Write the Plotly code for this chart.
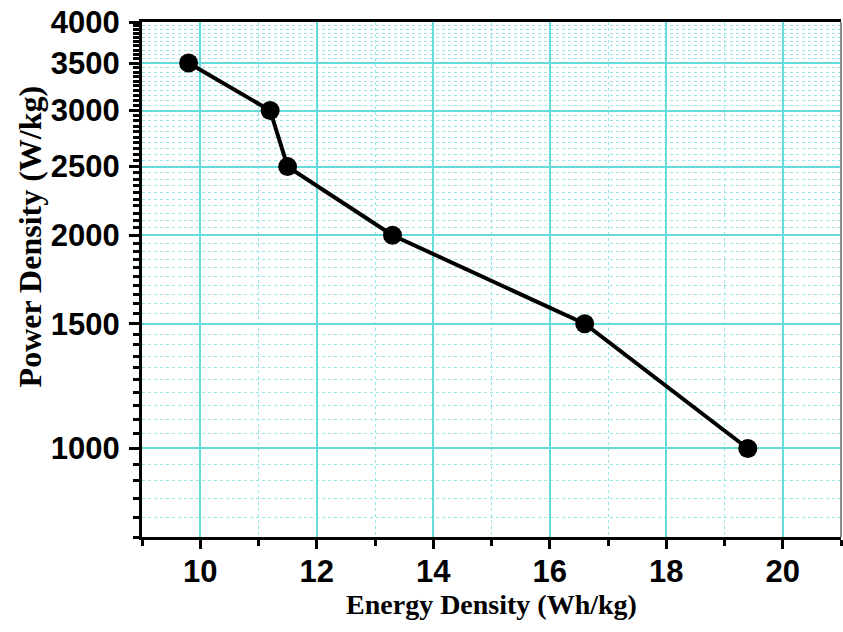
import plotly.graph_objects as go
import numpy as np

energy = [9.8, 11.2, 11.5, 13.3, 16.6, 19.4]
power = [3500, 3000, 2500, 2000, 1500, 1000]

y_major = [1000, 1500, 2000, 2500, 3000, 3500, 4000]
y_minor = list(range(750, 4001, 50))
x_major = [10, 12, 14, 16, 18, 20]
x_minor = [9, 11, 13, 15, 17, 19, 21]

major_grid = "rgb(100,220,220)"
minor_grid = "rgb(150,230,230)"

fig = go.Figure()
fig.add_trace(go.Scatter(
    x=energy, y=power, mode="lines+markers",
    line=dict(color="black", width=4),
    marker=dict(color="black", size=19),
    showlegend=False,
))

fig.update_layout(
    width=843, height=632,
    margin=dict(l=142, r=2, t=22, b=95),
    paper_bgcolor="white", plot_bgcolor="white",
    xaxis=dict(
        range=[9, 21],
        tickvals=x_major, ticktext=[str(v) for v in x_major],
        ticks="outside", ticklen=9, tickwidth=3, tickcolor="black",
        ticklabelstandoff=-4,
        showline=True, linecolor="black", linewidth=3, mirror=True,
        showgrid=True, gridcolor=major_grid, gridwidth=1.5,
        zeroline=False,
        tickfont=dict(family="Liberation Sans, Arial", size=31, color="black", weight="bold"),
        title=dict(text="Energy Density (Wh/kg)",
                   font=dict(family="Liberation Serif, Times New Roman", size=28, color="black", weight="bold"),
                   standoff=6),
        minor=dict(tickvals=x_minor, ticks="outside", ticklen=6, tickwidth=3, tickcolor="black",
                   showgrid=True, gridcolor=minor_grid, griddash="dot", gridwidth=1),
    ),
    yaxis=dict(
        type="log",
        range=[np.log10(750), np.log10(4000)],
        tickvals=y_major, ticktext=[str(v) for v in y_major],
        ticks="outside", ticklen=10, tickwidth=3, tickcolor="black",
        ticklabelstandoff=3,
        showline=True, linecolor="black", linewidth=3,
        showgrid=True, gridcolor=major_grid, gridwidth=1.5,
        zeroline=False,
        tickfont=dict(family="Liberation Sans, Arial", size=31, color="black", weight="bold"),
        minor=dict(tickvals=y_minor, ticks="outside", ticklen=6, tickwidth=2.5, tickcolor="black",
                   showgrid=True, gridcolor=minor_grid, griddash="dot", gridwidth=1),
    ),
    annotations=[dict(text="Power Density (W/kg)", xref="paper", yref="paper",
                      x=-0.16, y=0.584, xanchor="center", yanchor="middle",
                      textangle=-90, showarrow=False,
                      font=dict(family="Liberation Serif, Times New Roman", size=32,
                                color="black", weight="bold"))],
    shapes=[dict(type="line", xref="paper", yref="paper", x0=1, x1=1, y0=0, y1=1,
                 line=dict(color="rgb(140,140,140)", width=2))],
)

fig.write_html("out.html")
